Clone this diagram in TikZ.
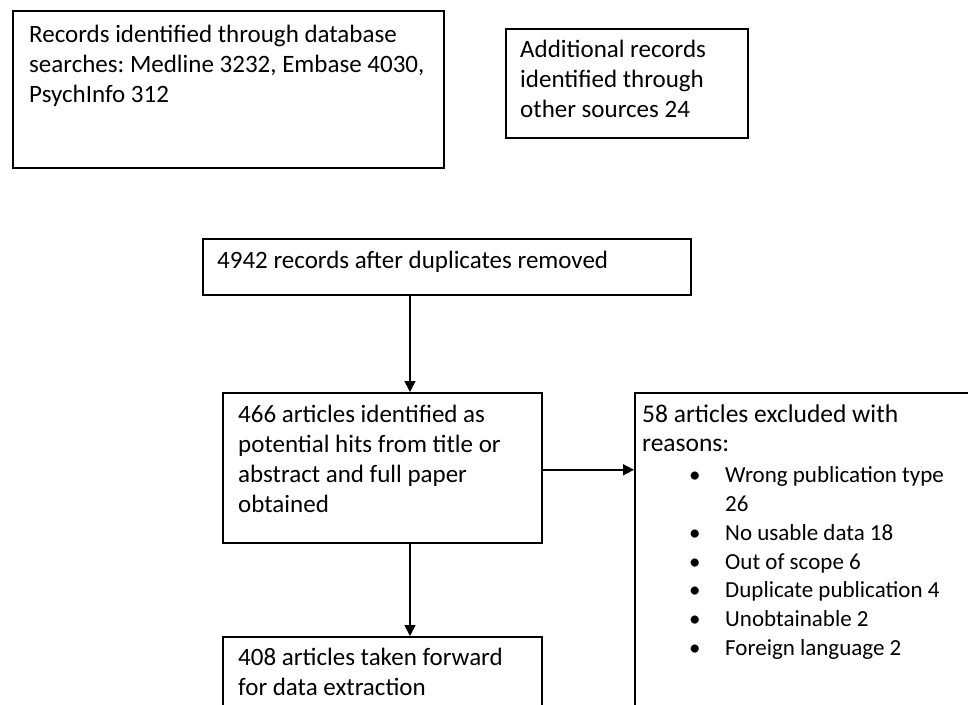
\documentclass[tikz,border=0pt]{standalone}
\usepackage{fontspec}
\setmainfont{Carlito}
\usetikzlibrary{arrows.meta}
\frenchspacing
\begin{document}
\begin{tikzpicture}[x=1pt,y=-1pt,
  box/.style={draw, line width=1.6pt, inner sep=0pt, anchor=north west},
  txt/.style={anchor=north west, inner sep=0pt, align=left, font=\fontsize{25}{30}\selectfont},
  txth/.style={anchor=north west, inner sep=0pt, align=left, font=\fontsize{25.5}{28.5}\selectfont},
  txtb/.style={anchor=north west, inner sep=0pt, align=left, font=\fontsize{23}{28.8}\selectfont},
  arr/.style={line width=1.6pt, -{Triangle[length=11pt,width=11pt]}}]
\clip (0,0) rectangle (968,704);
% boxes
\node[box, minimum width=431pt, minimum height=157pt] (b1) at (12,10) {};
\node[box, minimum width=242pt, minimum height=109pt] (b2) at (505,28) {};
\node[box, minimum width=488pt, minimum height=56pt] (b3) at (202,238) {};
\node[box, minimum width=319pt, minimum height=150pt] (b4) at (222,392) {};
\node[box, minimum width=400pt, minimum height=400pt] (b5) at (634,392) {};
\node[box, minimum width=319pt, minimum height=120pt] (b6) at (222,636) {};
% texts
\node[txt] (t1) at (29,21) {\strut Records identified through database\\searches: Medline 3232, Embase 4030,\\PsychInfo 312};
\node[txt] (t2) at (520,36.5) {\strut Additional records\\identified through\\other sources 24};
\node[txt] (t3) at (217,247.5) {\strut 4942 records after duplicates removed};
\node[txt] (t4) at (238,401.5) {\strut 466 articles identified as\\potential hits from title or\\abstract and full paper\\obtained};
\node[txth] (t5) at (642,402.5) {\strut 58 articles excluded with\\reasons:};
\node[txtb] (t5b) at (689,462.3) {\strut\makebox[36pt][l]{\textbullet}Wrong publication type\\
  \hspace*{36pt}26\\
  \makebox[36pt][l]{\textbullet}No usable data 18\\
  \makebox[36pt][l]{\textbullet}Out of scope 6\\
  \makebox[36pt][l]{\textbullet}Duplicate publication 4\\
  \makebox[36pt][l]{\textbullet}Unobtainable 2\\
  \makebox[36pt][l]{\textbullet}Foreign language 2};
\node[txt] (t6) at (238,645.5) {\fontsize{25}{28}\selectfont\strut 408 articles taken forward\\for data extraction};
% connectors
\draw[arr] ([xshift=208pt]b3.south west) -- ([xshift=188pt]b4.north west);
\draw[arr] ([yshift=-2pt]b4.east) -- ([yshift=-2pt]b4.east -| b5.west);
\draw[arr] ([xshift=188pt]b4.south west) -- ([xshift=188pt]b6.north west);
\end{tikzpicture}
\end{document}
